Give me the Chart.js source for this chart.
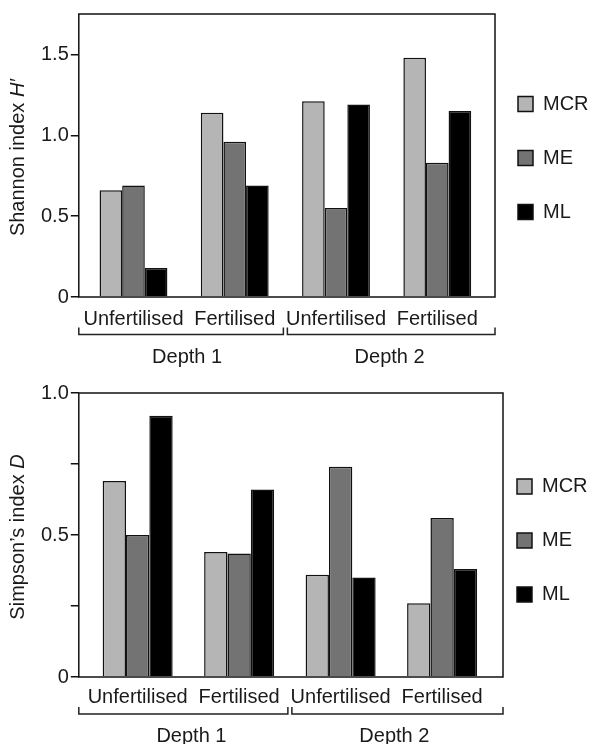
<!DOCTYPE html>
<html>
<head>
<meta charset="utf-8">
<script src="https://cdn.jsdelivr.net/npm/chart.js@4.4.1/dist/chart.umd.min.js"></script>
<style>
  html, body { margin: 0; padding: 0; background: #fff; }
  canvas { display: block; }
</style>
</head>
<body>
<canvas id="shannonChart" width="589" height="370"></canvas>
<canvas id="simpsonChart" width="589" height="374"></canvas>
<script>
// treatments on the x axis, grouped by depth
const categories = ['Unfertilised', 'Fertilised', 'Unfertilised', 'Fertilised'];
const depths = ['Depth 1', 'Depth 2'];
const seriesNames = ['MCR', 'ME', 'ML'];
const seriesColors = ['#b5b5b5', '#737373', '#000000'];

// Shannon index H'
const shannonMCR = [0.66, 1.14, 1.21, 1.48];
const shannonME = [0.69, 0.96, 0.55, 0.83];
const shannonML = [0.18, 0.69, 1.19, 1.15];

// Simpson's index D
const simpsonMCR = [0.69, 0.44, 0.36, 0.26];
const simpsonME = [0.50, 0.435, 0.74, 0.56];
const simpsonML = [0.92, 0.66, 0.35, 0.38];

const FONT = "'Liberation Sans', Arial, Helvetica, sans-serif";
Chart.defaults.font.family = FONT;
Chart.defaults.font.size = 20;
Chart.defaults.color = '#1a1a1a';

// plot frame around the chart area
const frame = {
  id: 'frame',
  afterDatasetsDraw(chart) {
    const { ctx, chartArea: a } = chart;
    ctx.save();
    ctx.strokeStyle = '#111';
    ctx.lineWidth = 1.5;
    ctx.strokeRect(a.left, a.top, a.right - a.left, a.bottom - a.top);
    ctx.restore();
  },
};

// brackets + "Depth n" under the treatment labels
const groupBrackets = {
  id: 'groupBrackets',
  afterDraw(chart, args, opts) {
    const { ctx, chartArea: a, scales: { x } } = chart;
    const mid = x.getPixelForValue(1.5);
    const y = a.bottom + opts.offset;
    ctx.save();
    ctx.strokeStyle = '#222';
    ctx.lineWidth = 1.5;
    [[a.left, mid - 2], [mid + 2, a.right]].forEach(([l, r]) => {
      ctx.beginPath();
      ctx.moveTo(l, y - 7);
      ctx.lineTo(l, y);
      ctx.lineTo(r, y);
      ctx.lineTo(r, y - 7);
      ctx.stroke();
    });
    ctx.fillStyle = '#1a1a1a';
    ctx.font = '20px ' + FONT;
    ctx.textAlign = 'center';
    ctx.textBaseline = 'middle';
    depths.forEach((d, i) => ctx.fillText(d, x.getPixelForValue(i * 2 + 0.5) + 3, y + opts.gap));
    ctx.restore();
  },
};

// rotated y title with an italic symbol at the end
const yTitle = {
  id: 'yTitle',
  afterDraw(chart, args, opts) {
    const { ctx, chartArea: a } = chart;
    const normal = '20px ' + FONT;
    const italic = 'italic 20px ' + FONT;
    ctx.save();
    ctx.translate(opts.x, (a.top + a.bottom) / 2 + 2);
    ctx.rotate(-Math.PI / 2);
    ctx.fillStyle = '#1a1a1a';
    ctx.textBaseline = 'middle';
    ctx.textAlign = 'left';
    ctx.font = normal;
    const w1 = ctx.measureText(opts.text).width;
    ctx.font = italic;
    const w2 = ctx.measureText(opts.symbol).width;
    const x0 = -(w1 + w2) / 2;
    ctx.font = normal;
    ctx.fillText(opts.text, x0, 0);
    ctx.font = italic;
    ctx.fillText(opts.symbol, x0 + w1, 0);
    ctx.restore();
  },
};

// pull the legend a bit closer to the frame
const legendShift = {
  id: 'legendShift',
  afterLayout(chart, args, opts) {
    const lg = chart.legend;
    const dx = opts.boxX - (lg.left + lg.options.labels.padding);
    lg.left += dx;
    lg.width -= dx;
    lg.top += opts.dy;
    lg.bottom += opts.dy;
  },
};

function makeDatasets(series) {
  return series.map((values, k) => ({
    label: seriesNames[k],
    data: values.map((v, i) => ({ x: i, y: v })),
    backgroundColor: seriesColors[k],
    borderColor: '#111',
    borderWidth: 1.5,
  }));
}

function makeChart(id, cfg) {
  return new Chart(document.getElementById(id), {
    type: 'bar',
    data: { datasets: makeDatasets(cfg.series) },
    options: {
      responsive: false,
      animation: false,
      layout: { padding: cfg.padding },
      datasets: { bar: { barPercentage: 1, categoryPercentage: cfg.barPct } },
      plugins: {
        legend: {
          position: 'right',
          fullSize: false,
          maxWidth: cfg.legendWidth,
          labels: { boxWidth: 15, boxHeight: 15, padding: 34, font: { size: 20 } },
        },
        tooltip: { enabled: false },
        legendShift: { boxX: cfg.legendX, dy: cfg.legendDy },
        groupBrackets: cfg.bracket,
        yTitle: { x: 18, text: cfg.title, symbol: cfg.symbol },
      },
      scales: {
        x: {
          type: 'linear',
          bounds: 'data',
          offset: false,
          min: cfg.xMin,
          max: cfg.xMax,
          // one tick per treatment, at 0..3
          afterBuildTicks: (scale) => {
            scale.ticks = categories.map((_, i) => ({ value: i }));
          },
          ticks: {
            autoSkip: false,
            maxRotation: 0,
            padding: cfg.labelPad,
            callback: (v) => categories[v] ?? '',
          },
          grid: { display: false, drawTicks: false, offset: false },
          border: { display: false },
        },
        y: {
          min: 0,
          max: cfg.yMax,
          ticks: {
            stepSize: cfg.yStep,
            includeBounds: false,
            padding: 2,
            callback: cfg.tickLabel,
          },
          grid: { drawOnChartArea: false, drawTicks: true, tickLength: 8, color: '#111', lineWidth: 1.5 },
          border: { display: false },
        },
      },
    },
    plugins: [frame, groupBrackets, yTitle, legendShift],
  });
}

makeChart('shannonChart', {
  series: [shannonMCR, shannonME, shannonML],
  padding: { left: 39, right: 0, top: 14, bottom: 29 },
  barPct: 0.67,
  labelPad: 10,
  bracket: { offset: 37.5, gap: 22.5 },
  legendWidth: 94,
  legendX: 518,
  legendDy: 2.5,
  xMin: -0.54,
  xMax: 3.57,
  yMax: 1.75,
  yStep: 0.5,
  tickLabel: (v) => (v === 0 ? '0' : v.toFixed(1)),
  title: 'Shannon index ',
  symbol: 'H′',
});

makeChart('simpsonChart', {
  series: [simpsonMCR, simpsonME, simpsonML],
  padding: { left: 39, right: 0, top: 23, bottom: 27 },
  barPct: 0.69,
  labelPad: 8,
  bracket: { offset: 37, gap: 22 },
  legendWidth: 86,
  legendX: 517,
  legendDy: 5.5,
  xMin: -0.58,
  xMax: 3.6,
  yMax: 1,
  yStep: 0.25,
  tickLabel: (v) => (v === 0 ? '0' : (v * 2) % 1 === 0 ? v.toFixed(1) : ''),
  title: 'Simpson’s index ',
  symbol: 'D',
});
</script>
</body>
</html>
